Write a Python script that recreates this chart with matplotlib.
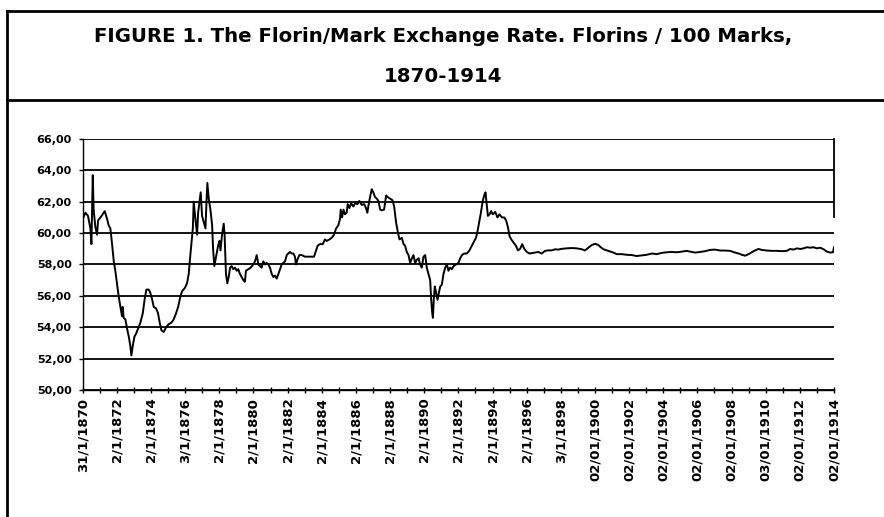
import matplotlib
matplotlib.use("Agg")
import matplotlib.pyplot as plt
from matplotlib.lines import Line2D
from matplotlib.ticker import FuncFormatter

# Florins per 100 marks (decimal years)
years_1870s = [1870.00, 1870.16, 1870.31, 1870.45, 1870.51, 1870.59, 1870.64, 1870.74, 1870.84, 1870.90,
               1871.04, 1871.17, 1871.29, 1871.43, 1871.52, 1871.62, 1871.72, 1871.82, 1871.91, 1872.01,
               1872.11, 1872.21, 1872.30, 1872.34, 1872.40, 1872.50, 1872.60, 1872.70, 1872.79, 1872.85,
               1872.93, 1873.03, 1873.13, 1873.24, 1873.38, 1873.52, 1873.63, 1873.73, 1873.87, 1873.96,
               1874.06, 1874.16, 1874.30, 1874.41, 1874.51, 1874.61, 1874.75, 1874.88, 1875.04, 1875.20,
               1875.33, 1875.47, 1875.59, 1875.72, 1875.82, 1875.98, 1876.11, 1876.21, 1876.27, 1876.37,
               1876.45, 1876.50, 1876.60, 1876.70, 1876.76, 1876.84, 1876.91, 1876.99, 1877.09, 1877.19,
               1877.25, 1877.30, 1877.38, 1877.48, 1877.58, 1877.64, 1877.71, 1877.81, 1877.93, 1878.01,
               1878.07, 1878.16, 1878.26, 1878.31, 1878.39, 1878.47, 1878.55, 1878.63, 1878.72, 1878.82,
               1878.92, 1879.02, 1879.11, 1879.21, 1879.31, 1879.41, 1879.50, 1879.56, 1879.70, 1879.84]
rate_1870s = [60.9, 61.3, 61.1, 60.3, 59.3, 63.7, 61.5, 60.4, 59.9, 60.8,
              61.0, 61.2, 61.4, 60.9, 60.5, 60.3, 59.3, 58.2, 57.6, 56.8,
              55.95, 55.3, 54.7, 55.3, 54.6, 54.5, 53.9, 53.4, 52.8, 52.2,
              52.8, 53.4, 53.6, 53.9, 54.3, 54.9, 55.8, 56.4, 56.4, 56.2,
              55.8, 55.3, 55.2, 54.9, 54.3, 53.8, 53.7, 54.0, 54.2, 54.3,
              54.5, 54.9, 55.3, 55.95, 56.3, 56.5, 56.8, 57.4, 58.2, 59.4,
              60.3, 62.0, 60.9, 59.9, 61.3, 62.0, 62.6, 61.1, 60.7, 60.3,
              62.0, 63.2, 62.2, 61.5, 60.5, 58.9, 57.9, 58.5, 59.2, 59.5,
              58.9, 59.9, 60.6, 59.9, 57.4, 56.8, 57.2, 57.8, 57.9, 57.7,
              57.8, 57.6, 57.7, 57.4, 57.2, 57.0, 56.9, 57.6, 57.7, 57.8]

years_1880s = [1879.99, 1880.09, 1880.19, 1880.29, 1880.38, 1880.48, 1880.58, 1880.68, 1880.77, 1880.87,
               1880.97, 1881.07, 1881.17, 1881.26, 1881.36, 1881.46, 1881.56, 1881.65, 1881.75, 1881.85,
               1881.95, 1882.04, 1882.14, 1882.24, 1882.34, 1882.43, 1882.49, 1882.57, 1882.69, 1882.83,
               1883.02, 1883.22, 1883.41, 1883.55, 1883.67, 1883.76, 1883.90, 1884.06, 1884.19, 1884.29,
               1884.45, 1884.58, 1884.72, 1884.84, 1884.97, 1885.07, 1885.11, 1885.19, 1885.27, 1885.36,
               1885.46, 1885.52, 1885.62, 1885.72, 1885.85, 1885.95, 1886.09, 1886.20, 1886.34, 1886.48,
               1886.59, 1886.67, 1886.75, 1886.83, 1886.93, 1887.02, 1887.12, 1887.22, 1887.32, 1887.42,
               1887.51, 1887.65, 1887.77, 1887.86, 1888.00, 1888.14, 1888.24, 1888.35, 1888.45, 1888.55,
               1888.69, 1888.79, 1888.88, 1888.98, 1889.08, 1889.18, 1889.28, 1889.37, 1889.47, 1889.57,
               1889.67, 1889.76, 1889.86, 1889.96]
rate_1880s = [58.0, 58.2, 58.6, 58.0, 57.9, 57.8, 58.2, 58.0, 58.1, 58.0,
              57.8, 57.4, 57.2, 57.3, 57.1, 57.4, 57.7, 58.0, 58.1, 58.2,
              58.6, 58.7, 58.8, 58.7, 58.7, 58.5, 58.0, 58.3, 58.6, 58.6,
              58.5, 58.5, 58.5, 58.5, 58.9, 59.2, 59.3, 59.3, 59.6, 59.5,
              59.6, 59.7, 59.9, 60.3, 60.5, 60.9, 61.5, 61.0, 61.5, 61.2,
              61.3, 61.85, 61.6, 61.9, 61.7, 61.9, 61.85, 62.05, 61.8, 61.85,
              61.6, 61.3, 61.85, 62.3, 62.8, 62.6, 62.3, 62.2, 62.05, 61.5,
              61.45, 61.5, 62.4, 62.3, 62.2, 62.1, 61.7, 60.7, 60.1, 59.6,
              59.7, 59.3, 59.2, 58.8, 58.6, 58.1, 58.4, 58.6, 58.1, 58.3,
              58.4, 58.0, 57.8, 58.5]

years_1890s = [1890.06, 1890.15, 1890.25, 1890.35, 1890.41, 1890.47, 1890.51, 1890.56, 1890.62, 1890.70,
               1890.78, 1890.86, 1890.94, 1891.03, 1891.13, 1891.23, 1891.33, 1891.42, 1891.52, 1891.62,
               1891.72, 1891.87, 1892.01, 1892.11, 1892.21, 1892.34, 1892.50, 1892.65, 1892.79, 1892.89,
               1893.03, 1893.12, 1893.22, 1893.32, 1893.42, 1893.51, 1893.59, 1893.67, 1893.73, 1893.83,
               1893.92, 1894.02, 1894.16, 1894.29, 1894.41, 1894.55, 1894.69, 1894.80, 1894.90, 1895.00,
               1895.10, 1895.23, 1895.37, 1895.49, 1895.62, 1895.74, 1895.86, 1896.01, 1896.17, 1896.49,
               1896.69, 1896.88, 1897.08, 1897.27, 1897.47, 1897.66, 1897.86, 1898.06, 1898.35, 1898.64,
               1898.93, 1899.23, 1899.42, 1899.62, 1899.81]
rate_1890s = [58.6, 57.8, 57.4, 57.0, 55.75, 54.9, 54.6, 55.75, 56.6, 56.2,
              55.75, 56.2, 56.6, 56.7, 57.4, 57.8, 58.0, 57.6, 57.8, 57.7,
              57.9, 58.0, 58.1, 58.4, 58.6, 58.7, 58.7, 58.9, 59.2, 59.4,
              59.7, 60.1, 60.7, 61.3, 62.0, 62.4, 62.6, 61.75, 61.1, 61.2,
              61.4, 61.2, 61.35, 61.0, 61.2, 61.0, 61.0, 60.8, 60.4, 59.8,
              59.6, 59.4, 59.2, 58.9, 59.0, 59.3, 59.0, 58.8, 58.7, 58.76,
              58.8, 58.7, 58.87, 58.9, 58.9, 58.97, 58.95, 59.0, 59.03, 59.05,
              59.03, 58.97, 58.9, 59.07, 59.24]

years_1900s = [1900.01, 1900.20, 1900.34, 1900.50, 1900.69, 1900.89, 1901.08, 1901.28, 1901.57, 1901.86,
               1902.16, 1902.45, 1902.74, 1903.04, 1903.33, 1903.62, 1903.91, 1904.21, 1904.50, 1904.79,
               1905.09, 1905.38, 1905.58, 1905.87, 1906.16, 1906.45, 1906.75, 1907.04, 1907.33, 1907.63,
               1907.92, 1908.15, 1908.41, 1908.60, 1908.80, 1908.99, 1909.19, 1909.38, 1909.58, 1909.77,
               1910.07, 1910.36, 1910.65, 1910.95, 1911.24, 1911.43, 1911.63, 1911.83, 1912.02, 1912.22,
               1912.41, 1912.61, 1912.80, 1913.00, 1913.20, 1913.39, 1913.59, 1913.78, 1913.94, 1914.00]
rate_1900s = [59.32, 59.24, 59.1, 58.97, 58.9, 58.82, 58.76, 58.66, 58.66, 58.62,
              58.6, 58.54, 58.58, 58.62, 58.7, 58.66, 58.74, 58.78, 58.8, 58.78,
              58.82, 58.87, 58.82, 58.76, 58.8, 58.85, 58.93, 58.95, 58.89, 58.89,
              58.87, 58.78, 58.7, 58.62, 58.56, 58.66, 58.78, 58.9, 58.99, 58.93,
              58.89, 58.87, 58.87, 58.85, 58.87, 58.99, 58.95, 59.03, 58.99, 59.03,
              59.1, 59.07, 59.1, 59.03, 59.07, 58.97, 58.82, 58.76, 58.78, 59.1]

years = years_1870s + years_1880s + years_1890s + years_1900s
rate = rate_1870s + rate_1880s + rate_1890s + rate_1900s

tick_years = list(range(1870, 1915, 2))
tick_labels = ["31/1/1870", "2/1/1872", "2/1/1874", "3/1/1876", "2/1/1878", "2/1/1880",
               "2/1/1882", "2/1/1884", "2/1/1886", "2/1/1888", "2/1/1890", "2/1/1892",
               "2/1/1894", "2/1/1896", "3/1/1898", "02/01/1900", "02/01/1902", "02/01/1904",
               "02/01/1906", "02/01/1908", "03/01/1910", "02/01/1912", "02/01/1914"]

W, H = 884, 517
fig = plt.figure(figsize=(W / 100, H / 100), dpi=100)
fig.patch.set_facecolor("white")

# box around the figure with the title strip
fig.add_artist(Line2D([7 / W, 1], [1 - 11 / H] * 2, color="black", lw=2))
fig.add_artist(Line2D([7 / W, 1], [1 - 100 / H] * 2, color="black", lw=2))
fig.add_artist(Line2D([7 / W] * 2, [0, 1 - 11 / H], color="black", lw=2))

fig.text(0.501, 1 - 37 / H, "FIGURE 1. The Florin/Mark Exchange Rate. Florins / 100 Marks,",
         ha="center", va="center", fontsize=14.2, fontweight="bold")
fig.text(0.501, 1 - 77 / H, "1870-1914",
         ha="center", va="center", fontsize=14.2, fontweight="bold")

ax = fig.add_axes([82.7 / W, 1 - 390 / H, (834 - 82.7) / W, (390 - 139) / H])
ax.plot(years, rate, color="black", lw=1.4)

ax.set_xlim(1870, 1914)
ax.set_ylim(50, 66)
ax.set_yticks(range(50, 67, 2))
ax.yaxis.set_major_formatter(FuncFormatter(lambda v, p: f"{v:.2f}".replace(".", ",")))
ax.grid(axis="y", color="black", lw=1.3)
ax.set_axisbelow(True)

ax.set_xticks(tick_years)
ax.set_xticklabels(tick_labels, rotation=90, fontsize=9.5, fontweight="bold")
ax.set_xticks(range(1871, 1914, 2), minor=True)
ax.tick_params(axis="x", which="both", direction="inout", length=5, width=1, pad=3)
ax.tick_params(axis="y", direction="out", length=3, width=1, pad=5, labelsize=8)
for lab in ax.get_yticklabels():
    lab.set_fontweight("bold")

ax.spines["top"].set_visible(False)
ax.spines["right"].set_bounds(61, 66)
ax.spines["right"].set_linewidth(1.3)
ax.spines["left"].set_linewidth(1)
ax.spines["bottom"].set_linewidth(1)

fig.savefig("out.png", dpi=100)
